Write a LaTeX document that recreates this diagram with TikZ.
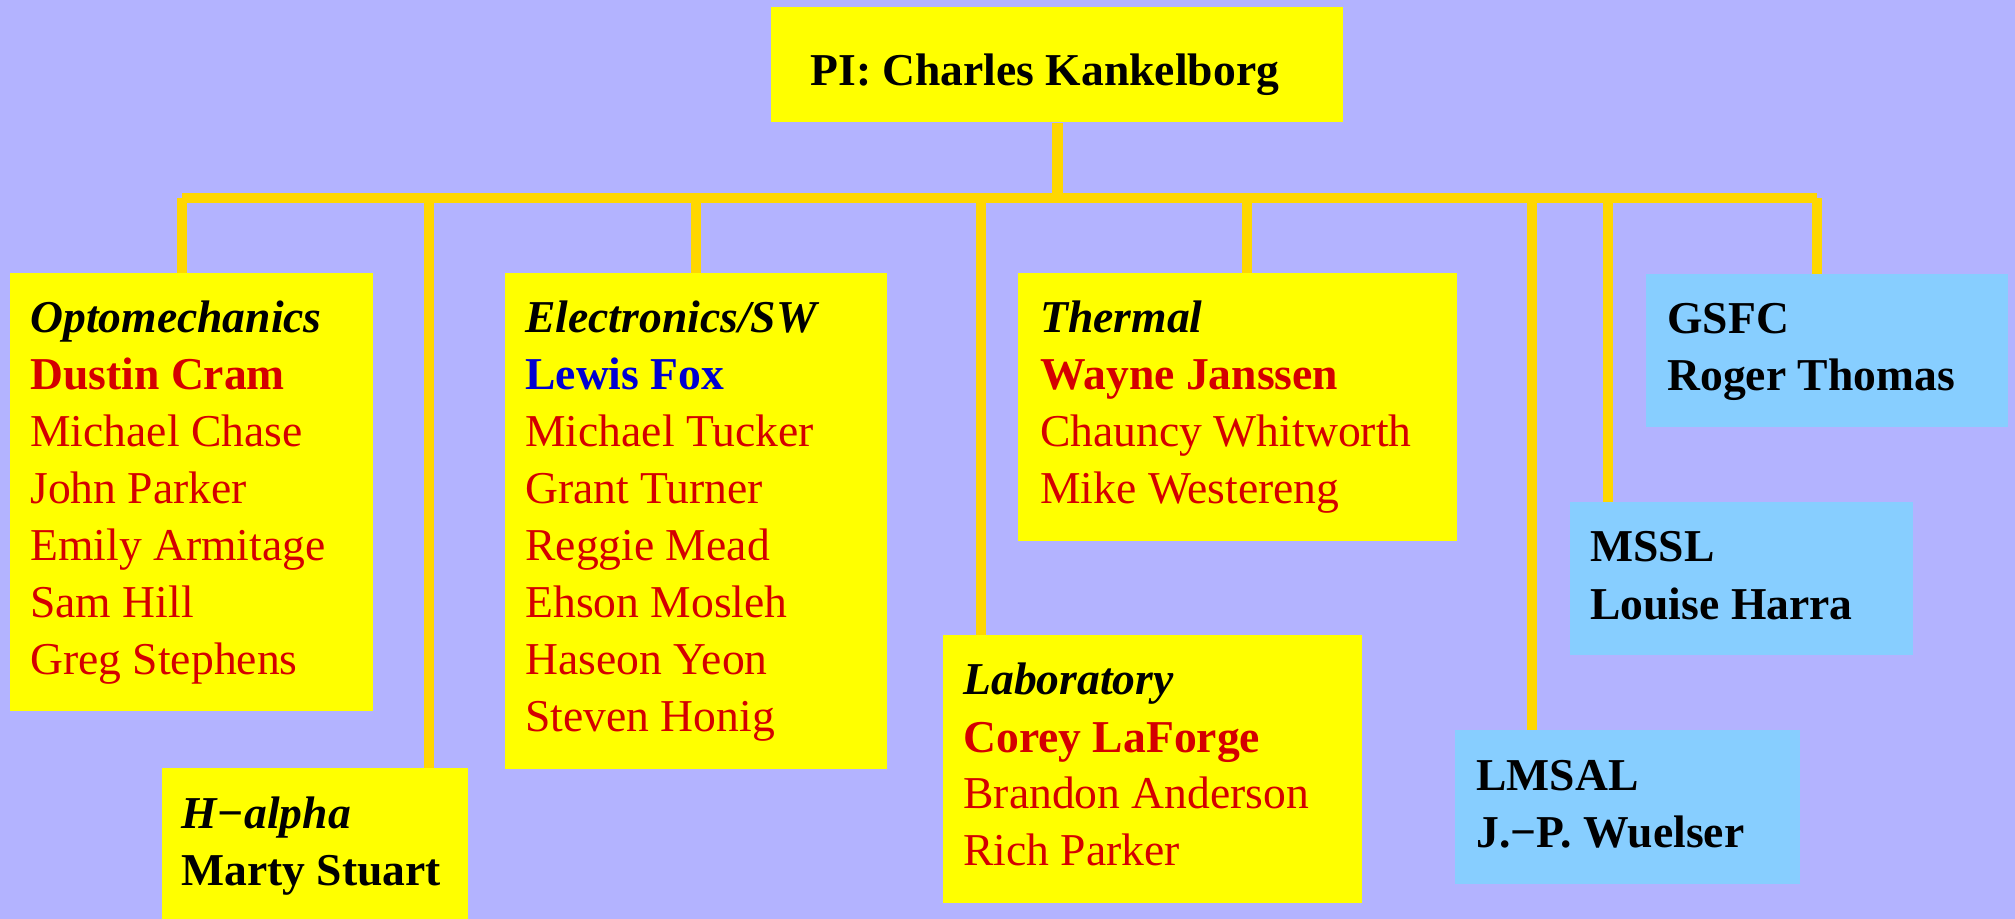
\documentclass[tikz,border=0pt]{standalone}
\usepackage{fontspec}
\setmainfont{Liberation Serif}
\definecolor{bg}{RGB}{179,179,255}
\definecolor{boxy}{RGB}{255,255,0}
\definecolor{boxb}{RGB}{135,206,255}
\definecolor{linec}{RGB}{255,215,0}
\definecolor{redt}{RGB}{212,0,0}
\definecolor{bluet}{RGB}{0,0,210}
\newcommand{\hd}[1]{\textbf{\textit{#1}}}
\newcommand{\lead}[1]{\textcolor{redt}{\textbf{#1}}}
\newcommand{\mem}[1]{\textcolor{redt}{#1}}
\begin{document}
\begin{tikzpicture}[x=0.5pt,y=-0.5pt,
  ybox/.style={fill=boxy, draw=none, inner sep=0pt, anchor=north west},
  bbox/.style={fill=boxb, draw=none, inner sep=0pt, anchor=north west},
  lbl/.style={anchor=base west, inner sep=0pt, font=\fontsize{22.8}{28.5}\selectfont},
  conn/.style={draw=linec, line width=5.4pt}]
\fill[bg] (0,0) rectangle (2015,919);
\useasboundingbox (0,0) rectangle (2015,919);
% boxes
\node[ybox, minimum width=286pt, minimum height=57.5pt] (pi) at (771,7) {};
\node[ybox, minimum width=181.5pt, minimum height=219pt] (opt) at (10,273) {};
\node[ybox, minimum width=153pt, minimum height=80pt] (ha) at (162,768) {};
\node[ybox, minimum width=191pt, minimum height=248pt] (elec) at (505,273) {};
\node[ybox, minimum width=209.5pt, minimum height=134pt] (lab) at (943,635) {};
\node[ybox, minimum width=219.5pt, minimum height=134pt] (therm) at (1018,273) {};
\node[bbox, minimum width=172.5pt, minimum height=77pt] (lmsal) at (1455,730) {};
\node[bbox, minimum width=171.5pt, minimum height=76.5pt] (mssl) at (1570,502) {};
\node[bbox, minimum width=181pt, minimum height=76.5pt] (gsfc) at (1646,274) {};
% connectors
\coordinate (barL) at (182,198);
\coordinate (barR) at (1817,198);
\coordinate (d2) at (429,198);
\coordinate (d3) at (696,198);
\coordinate (d4) at (981,198);
\coordinate (d5) at (1247,198);
\coordinate (d6) at (1532,198);
\coordinate (d7) at (1608,198);
\draw[conn] (pi.south) -- (pi.south |- barL);
\draw[conn] (barL) -- (barR);
\draw[conn] (barL) -- (barL |- opt.north);
\draw[conn] (d2) -- (d2 |- ha.north);
\draw[conn] (d3) -- (d3 |- elec.north);
\draw[conn] (d4) -- (d4 |- lab.north);
\draw[conn] (d5) -- (d5 |- therm.north);
\draw[conn] (d6) -- (d6 |- lmsal.north);
\draw[conn] (d7) -- (d7 |- mssl.north);
\draw[conn] (barR) -- (barR |- gsfc.north);
% texts
\node[lbl] (piT) at ([xshift=19.5pt,yshift=-39.5pt]pi.north west) {\textbf{PI: Charles Kankelborg}};
\node[lbl] (optT) at ([xshift=10pt,yshift=-30pt]opt.north west) {\begin{tabular}[t]{@{}l@{}}
\hd{Optomechanics}\\ \lead{Dustin Cram}\\ \mem{Michael Chase}\\ \mem{John Parker}\\ \mem{Emily Armitage}\\ \mem{Sam Hill}\\ \mem{Greg Stephens}\end{tabular}};
\node[lbl] (haT) at ([xshift=9.5pt,yshift=-30pt]ha.north west) {\begin{tabular}[t]{@{}l@{}}
\hd{H−alpha}\\ \textbf{Marty Stuart}\end{tabular}};
\node[lbl] (elecT) at ([xshift=10pt,yshift=-30pt]elec.north west) {\begin{tabular}[t]{@{}l@{}}
\hd{Electronics/SW}\\ \textcolor{bluet}{\textbf{Lewis Fox}}\\ \mem{Michael Tucker}\\ \mem{Grant Turner}\\ \mem{Reggie Mead}\\ \mem{Ehson Mosleh}\\ \mem{Haseon Yeon}\\ \mem{Steven Honig}\end{tabular}};
\node[lbl] (labT) at ([xshift=10pt,yshift=-30pt]lab.north west) {\begin{tabular}[t]{@{}l@{}}
\hd{Laboratory}\\ \lead{Corey LaForge}\\ \mem{Brandon Anderson}\\ \mem{Rich Parker}\end{tabular}};
\node[lbl] (thermT) at ([xshift=11pt,yshift=-30pt]therm.north west) {\begin{tabular}[t]{@{}l@{}}
\hd{Thermal}\\ \lead{Wayne Janssen}\\ \mem{Chauncy Whitworth}\\ \mem{Mike Westereng}\end{tabular}};
\node[lbl] (lmsalT) at ([xshift=10.5pt,yshift=-30pt]lmsal.north west) {\begin{tabular}[t]{@{}l@{}}
\textbf{LMSAL}\\ \textbf{J.−P. Wuelser}\end{tabular}};
\node[lbl] (msslT) at ([xshift=10pt,yshift=-30pt]mssl.north west) {\begin{tabular}[t]{@{}l@{}}
\textbf{MSSL}\\ \textbf{Louise Harra}\end{tabular}};
\node[lbl] (gsfcT) at ([xshift=10.5pt,yshift=-30pt]gsfc.north west) {\begin{tabular}[t]{@{}l@{}}
\textbf{GSFC}\\ \textbf{Roger Thomas}\end{tabular}};
\end{tikzpicture}
\end{document}
